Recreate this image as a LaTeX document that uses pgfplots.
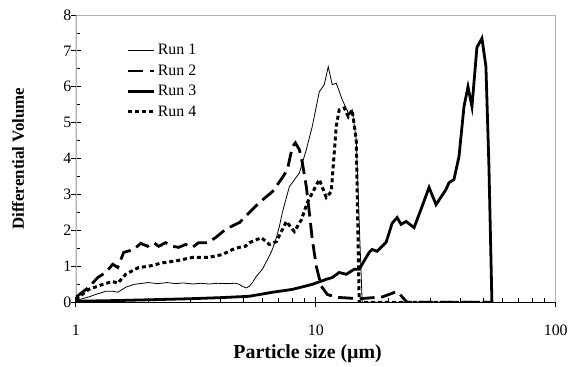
\documentclass[border=0pt]{standalone}
\usepackage{fontspec}
\setmainfont{Liberation Serif}
\usepackage{pgfplots}
\pgfplotsset{compat=1.18}
\begin{document}
\begin{tikzpicture}
\begin{axis}[
  name=ax,
  scale only axis,
  width=481bp, height=288bp,
  xmode=log, xmin=1, xmax=100,
  ymin=0, ymax=8,
  xtick={1,10,100}, xticklabels={1,10,100},
  ytick={0,1,2,3,4,5,6,7,8},
  minor y tick num=1,
  xtick pos=bottom, ytick pos=left,
  tick align=inside,
  major tick length=5bp,
  minor tick length=4.5bp,
  extra x ticks={1,10,100}, extra x tick labels={},
  extra y ticks={0,1,2,3,4,5,6,7,8}, extra y tick labels={},
  extra x tick style={tick align=outside, major tick length=5bp},
  extra y tick style={tick align=outside, major tick length=5bp},
  tick style={black, line width=0.8pt},
  axis line style={gray!60, line width=0.6pt},
  /pgf/number format/assume math mode=true,
  tick label style={font=\fontsize{16}{19}\selectfont},
  xticklabel style={yshift=-19bp},
  yticklabel style={xshift=-1bp},
  xlabel={Particle size (µm)},
  ylabel={Differential Volume},
  xlabel style={font=\bfseries\fontsize{20}{24}\selectfont, at={(axis description cs:0.483,-0.1806)}, anchor=center},
  ylabel style={font=\bfseries\fontsize{17}{20}\selectfont, at={(axis description cs:-0.1206,0.5)}, anchor=center},
  legend cell align=left,
  legend style={at={(axis description cs:0.106,0.905)}, anchor=north west, draw=none, fill=none,
    font=\fontsize{16}{19}\selectfont, row sep=4.5bp, inner sep=0pt,
    /tikz/every even column/.append style={column sep=0pt}},
  legend image code/.code={\draw[#1] (0bp,0bp) -- (26bp,0bp);},
]
\addplot[black, line width=0.8bp] coordinates {
(1,0.05) (1.133,0.15) (1.211,0.22) (1.295,0.28) (1.332,0.31) (1.425,0.31) (1.495,0.28)
(1.614,0.42) (1.75,0.5) (1.899,0.53) (2.0,0.55) (2.2,0.52) (2.4,0.55) (2.6,0.52)
(2.8,0.54) (3.07,0.51) (3.3,0.53) (3.6,0.51) (3.9,0.53) (4.2,0.52) (4.627,0.53)
(4.807,0.5) (4.948,0.44) (5.044,0.42) (5.14,0.40) (5.29,0.45) (5.445,0.55) (5.65,0.72)
(5.99,0.92) (6.3,1.2) (6.595,1.47) (6.85,1.8) (7.05,2.11) (7.255,2.5) (7.76,3.22)
(8.54,3.6) (9.13,4.25) (9.67,4.9) (10.34,5.86) (10.85,6.06) (11.27,6.56) (11.71,6.06)
(12.17,6.1) (12.89,5.64) (13.78,5.22) (14.18,5.36) (14.74,4.53) (15.17,2.2) (15.61,0)
(54.2,0)
};
\addlegendentry{Run 1}
\addplot[black, line width=2.8bp, dash pattern=on 15bp off 6.5bp] coordinates {
(1,0.14) (1.133,0.42) (1.234,0.69) (1.332,0.83) (1.425,1.06) (1.495,0.97) (1.583,1.39)
(1.743,1.47) (1.864,1.64) (1.993,1.56) (2.110,1.66) (2.214,1.56) (2.367,1.66) (2.532,1.56)
(2.681,1.53) (2.867,1.61) (3.065,1.53) (3.246,1.66) (3.539,1.66) (3.821,1.8) (4.205,2.03)
(4.627,2.17) (4.807,2.22) (5.29,2.5) (5.823,2.78) (6.595,3.08) (7.255,3.47) (7.61,3.69)
(7.99,4.33) (8.22,4.44) (8.54,4.25) (8.79,3.89) (9.13,3.22) (9.40,2.5) (9.67,1.75)
(10.05,1.0) (10.54,0.45) (11.16,0.22) (12.17,0.14) (15.17,0.1) (18.9,0.15) (20.8,0.25)
(21.61,0.3) (22.3,0.25) (22.89,0.15) (24.02,0) (54.2,0)
};
\addlegendentry{Run 2}
\addplot[black, line width=2.8bp] coordinates {
(1,0.03) (1.5,0.05) (2,0.07) (3,0.1) (4,0.13) (5,0.16) (5.3,0.17) (6.6,0.28) (7.99,0.36)
(9.67,0.5) (11.06,0.64) (11.71,0.69) (12.52,0.83) (13.39,0.78) (14.46,0.92) (15.17,0.92)
(16.69,1.39) (17.18,1.47) (18.02,1.42) (19.64,1.67) (20.8,2.2) (21.82,2.36) (22.67,2.17)
(23.79,2.25) (25.68,2.08) (27.73,2.67) (29.65,3.2) (31.70,2.72) (34.87,3.14) (35.91,3.33)
(37.66,3.42) (39.52,4.06) (41.46,5.45) (43.07,6.0) (44.75,5.45) (46.94,7.1) (49.25,7.35)
(51.17,6.56) (52.66,3.8) (54.19,0)
};
\addlegendentry{Run 3}
\addplot[black, line width=3bp, dash pattern=on 4bp off 3bp] coordinates {
(1,0.08) (1.133,0.36) (1.295,0.5) (1.425,0.58) (1.495,0.53) (1.614,0.78) (1.828,0.97)
(2.0,1.0) (2.3,1.1) (2.605,1.15) (3.065,1.25) (3.573,1.25) (4.086,1.33) (4.496,1.47)
(4.807,1.53) (5.093,1.56) (5.29,1.66) (5.935,1.8) (6.41,1.61) (6.85,1.69) (7.54,2.25)
(8.14,1.97) (8.71,2.3) (9.22,2.78) (10.34,3.42) (11.06,2.92) (11.60,3.08) (12.17,4.9)
(12.52,5.36) (13.14,5.41) (13.65,5.17) (14.18,5.36) (14.74,4.53) (15.17,0) (54.2,0)
};
\addlegendentry{Run 4}
\draw[black, line width=0.9pt] (rel axis cs:0,1) -- (rel axis cs:0,0) -- (rel axis cs:1,0);
\end{axis}
\path ([yshift=15bp]ax.north west) ([xshift=-76bp,yshift=-61bp]ax.south west);
\end{tikzpicture}
\end{document}
